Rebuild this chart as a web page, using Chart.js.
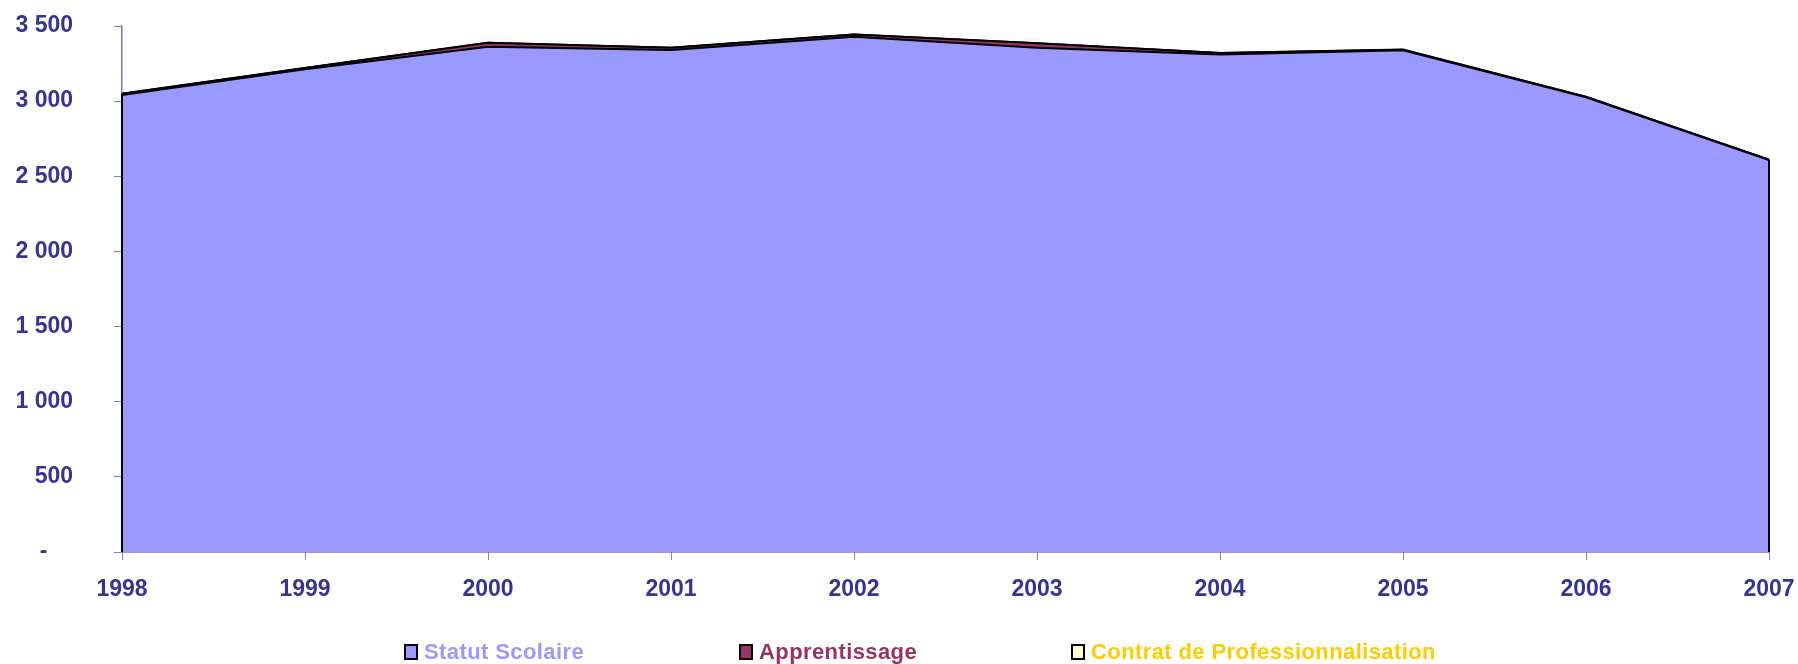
<!DOCTYPE html>
<html>
<head>
<meta charset="utf-8">
<script src="https://cdn.jsdelivr.net/npm/chart.js@4"></script>
<style>
  body { margin: 0; background: #fff; }
  .wrap { position: relative; width: 1798px; height: 664px; }
  .legend-item {
    position: absolute; top: 641px; height: 22px;
    font: bold 22px 'Liberation Sans', Arial, sans-serif; letter-spacing: 0.4px;
    line-height: 22px; white-space: nowrap;
  }
  .legend-item span.box {
    display: inline-block; width: 10px; height: 12px; border: 2px solid #000;
    vertical-align: -1px; margin-right: 6px;
  }
</style>
</head>
<body>
<div class="wrap">
  <canvas id="chart"></canvas>
  <div id="legend"></div>
</div>
<script>
const years = ['1998', '1999', '2000', '2001', '2002', '2003', '2004', '2005', '2006', '2007'];
const statutScolaire = [3040, 3212, 3362, 3340, 3428, 3356, 3310, 3338, 3025, 2608];
const apprentissage = [10, 8, 26, 16, 16, 30, 10, 4, 3, 2];
const contratPro = [0, 0, 0, 0, 0, 0, 0, 1, 1, 1];
const yTicks = [0, 500, 1000, 1500, 2000, 2500, 3000, 3500];

const seriesNames = ['Statut Scolaire', 'Apprentissage', 'Contrat de Professionnalisation'];
const fillColors = ['#9999ff', '#993366', '#ffffcc'];
const textColors = ['#9999ff', '#993366', '#ffcc00'];
const legendLeft = [404, 739, 1071];

const fmt = (v) => v === 0 ? '-\u00a0\u00a0\u00a0\u00a0' : String(v).replace(/\B(?=(\d{3})+(?!\d))/g, ' ');

// black outline on the two vertical sides of the stacked area, like the original
const areaEdges = {
  id: 'areaEdges',
  afterDatasetsDraw(chart) {
    const { ctx, scales: { x, y } } = chart;
    const last = years.length - 1;
    ctx.save();
    ctx.strokeStyle = '#000';
    ctx.lineWidth = 2;
    [0, last].forEach((i) => {
      const total = statutScolaire[i] + apprentissage[i] + contratPro[i];
      const px = x.getPixelForValue(i);
      ctx.beginPath();
      ctx.moveTo(px, y.getPixelForValue(total));
      ctx.lineTo(px, y.getPixelForValue(0));
      ctx.stroke();
    });
    ctx.restore();
  },
};

const ctx = document.getElementById('chart').getContext('2d');
new Chart(ctx, {
  type: 'line',
  data: {
    labels: years,
    datasets: [statutScolaire, apprentissage, contratPro].map((d, i) => ({
      label: seriesNames[i],
      data: d,
      backgroundColor: fillColors[i],
      borderColor: '#000',
      borderWidth: 2,
      pointRadius: 0,
      tension: 0,
      fill: i === 0 ? 'origin' : '-1',
    })),
  },
  plugins: [areaEdges],
  options: {
    responsive: true,
    maintainAspectRatio: false,
    animation: false,
    layout: { padding: { top: 26, right: 29, bottom: 60, left: 0 } },
    plugins: {
      legend: { display: false },
      tooltip: { enabled: false },
    },
    scales: {
      x: {
        offset: false,
        afterFit: (s) => { s.height = 52; s.paddingLeft = 0; s.paddingRight = 0; },
        border: { color: '#333399', width: 1.5 },
        grid: {
          offset: false,
          drawOnChartArea: false,
          color: '#8080c0',
          tickLength: 8,
        },
        ticks: {
          color: '#333399',
          padding: 16,
          maxRotation: 0,
          autoSkip: false,
          font: { family: "'Liberation Sans', Arial, sans-serif", size: 23, weight: 'bold' },
        },
      },
      y: {
        stacked: true,
        min: 0,
        max: 3500,
        afterFit: (s) => { s.width = 122; s.paddingTop = 0; s.paddingBottom = 0; },
        afterBuildTicks: (s) => { s.ticks = yTicks.map((v) => ({ value: v })); },
        border: { color: '#7b7bbd', width: 1.5 },
        grid: {
          drawOnChartArea: false,
          color: '#8080c0',
          tickLength: 8,
        },
        ticks: {
          color: '#333399',
          padding: 41,
          callback: (v) => fmt(v),
          font: { family: "'Liberation Sans', Arial, sans-serif", size: 23, weight: 'bold' },
        },
      },
    },
  },
});

const legend = document.getElementById('legend');
seriesNames.forEach((name, i) => {
  const item = document.createElement('div');
  item.className = 'legend-item';
  item.style.left = legendLeft[i] + 'px';
  item.style.color = textColors[i];
  const box = document.createElement('span');
  box.className = 'box';
  box.style.background = fillColors[i];
  item.appendChild(box);
  item.appendChild(document.createTextNode(name));
  legend.appendChild(item);
});
</script>
</body>
</html>
